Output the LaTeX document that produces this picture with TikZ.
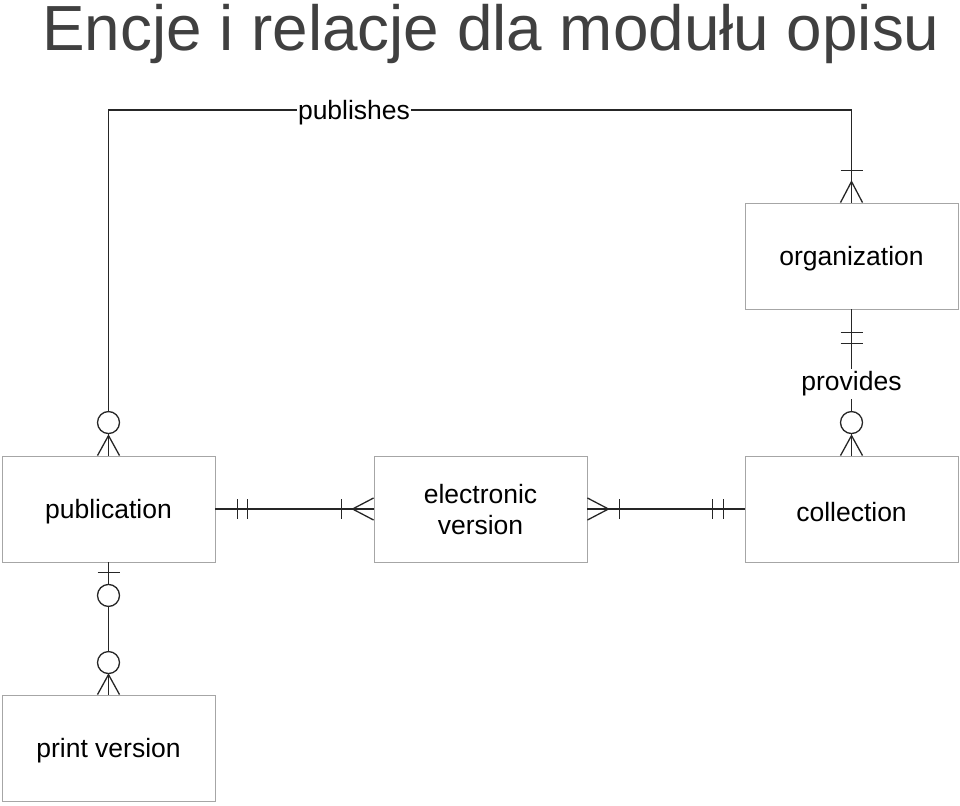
\documentclass[tikz,border=0pt]{standalone}
\usepackage{fontspec}
\setmainfont{Liberation Sans}
\definecolor{boxgray}{HTML}{A6A6A6}
\definecolor{linegray}{HTML}{262626}
\definecolor{titlegray}{HTML}{404040}
\begin{document}
\begin{tikzpicture}[x=1pt,y=-1pt,
  ent/.style={draw=boxgray, line width=0.9pt, minimum width=213pt, minimum height=106pt, inner sep=0pt},
  etxt/.style={inner sep=0pt, font=\fontsize{26.5}{31}\selectfont, text=black, align=center},
  ln/.style={draw=linegray, line width=1.3pt},
  lbl/.style={fill=white, inner xsep=1pt, inner ysep=3pt, font=\fontsize{26.5}{30}\selectfont, text=black},
  zc/.style={ln, fill=white}]
\useasboundingbox (0,0) rectangle (960,805);
\node[anchor=base, inner sep=0pt, text=titlegray, font=\fontsize{63.8}{70}\selectfont] (title) at (491,50.5) {Encje i relacje dla modułu opisu};
\node[ent] (org) at (851.5,256) {};
\node[ent] (pub) at (108.5,509) {};
\node[ent] (ev) at (480.5,509) {};
\node[ent] (col) at (851.5,509) {};
\node[ent] (pv) at (108.5,748) {};
\node[etxt] (orgt) at ([shift={(0,3)}]org.center) {organization};
\node[etxt] (pubt) at ([shift={(0,3)}]pub.center) {publication};
\node[etxt] (evt) at ([shift={(0,0.5)}]ev.center) {electronic\\version};
\node[etxt] (colt) at ([shift={(0,3)}]col.center) {collection};
\node[etxt] (pvt) at ([shift={(0,3)}]pv.center) {print version};
% publishes
\coordinate (p1) at (108.5,110);
\coordinate (p2) at (851.5,110);
\draw[ln] (pub.north) -- (p1) -- (p2) -- (org.north);
\node[lbl] (publ) at (354,112.5) {publishes};
\draw[ln] ([shift={(-11,0)}]pub.north) -- ([shift={(0,-20)}]pub.north) -- ([shift={(11,0)}]pub.north);
\draw[zc] ([shift={(0,-33)}]pub.north) circle (11pt);
\draw[ln] ([shift={(-11,0)}]org.north) -- ([shift={(0,-21)}]org.north) -- ([shift={(11,0)}]org.north);
\draw[ln] ([shift={(-11,-32)}]org.north) -- ([shift={(11,-32)}]org.north);
% provides
\draw[ln] (org.south) -- (col.north);
\node[lbl] (prov) at (851.5,384) {provides};
\draw[ln] ([shift={(-11,23)}]org.south) -- ([shift={(11,23)}]org.south);
\draw[ln] ([shift={(-11,34)}]org.south) -- ([shift={(11,34)}]org.south);
\draw[ln] ([shift={(-11,0)}]col.north) -- ([shift={(0,-20)}]col.north) -- ([shift={(11,0)}]col.north);
\draw[zc] ([shift={(0,-33)}]col.north) circle (11pt);
% publication - electronic version
\draw[ln] (pub.east) -- (ev.west);
\draw[ln] ([shift={(22,-10)}]pub.east) -- ([shift={(22,10)}]pub.east);
\draw[ln] ([shift={(32,-10)}]pub.east) -- ([shift={(32,10)}]pub.east);
\draw[ln] ([shift={(-32,-10)}]ev.west) -- ([shift={(-32,10)}]ev.west);
\draw[ln] ([shift={(0,-11)}]ev.west) -- ([shift={(-21,0)}]ev.west) -- ([shift={(0,11)}]ev.west);
% electronic version - collection
\draw[ln] (ev.east) -- (col.west);
\draw[ln] ([shift={(0,-11)}]ev.east) -- ([shift={(21,0)}]ev.east) -- ([shift={(0,11)}]ev.east);
\draw[ln] ([shift={(32,-10)}]ev.east) -- ([shift={(32,10)}]ev.east);
\draw[ln] ([shift={(-32,-10)}]col.west) -- ([shift={(-32,10)}]col.west);
\draw[ln] ([shift={(-21,-10)}]col.west) -- ([shift={(-21,10)}]col.west);
% publication - print version
\draw[ln] (pub.south) -- (pv.north);
\draw[ln] ([shift={(-11,10)}]pub.south) -- ([shift={(11,10)}]pub.south);
\draw[zc] ([shift={(0,33)}]pub.south) circle (11pt);
\draw[ln] ([shift={(-11,0)}]pv.north) -- ([shift={(0,-20)}]pv.north) -- ([shift={(11,0)}]pv.north);
\draw[zc] ([shift={(0,-32)}]pv.north) circle (11pt);
\end{tikzpicture}
\end{document}
